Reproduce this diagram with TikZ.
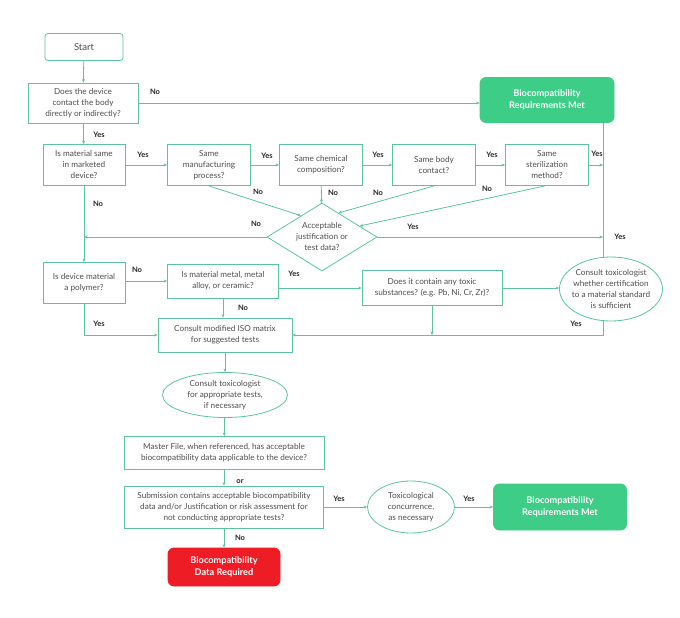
\documentclass[tikz,border=0pt]{standalone}
\usepackage{fontspec}
\setmainfont{Lato}
\usetikzlibrary{shapes.geometric,arrows.meta,calc}
\definecolor{lncol}{HTML}{5BC49C}
\definecolor{gf}{HTML}{3DCD86}
\definecolor{rf}{HTML}{EE1C24}
\definecolor{tx}{HTML}{4D4D4D}
\begin{document}
\begin{tikzpicture}[x=1pt,y=-1pt,
  box/.style={draw=lncol, line width=0.8pt, text=tx, align=center, inner sep=2pt, font=\fontsize{8.2}{11}\selectfont},
  term/.style={box, rounded corners=6pt, fill=gf, draw=gf, text=white, font=\bfseries\fontsize{9.2}{12.5}\selectfont},
  redterm/.style={term, fill=rf, draw=rf},
  oval/.style={box, ellipse, inner xsep=-7pt, inner ysep=-1pt},
  dia/.style={box, diamond, aspect=1.6, inner sep=0pt},
  lbl/.style={font=\bfseries\fontsize{7.5}{8}\selectfont, text=black!85},
  arr/.style={draw=lncol, line width=0.8pt, -{Stealth[length=3.5pt,width=3pt]}},
  wire/.style={draw=lncol, line width=0.8pt}]
\useasboundingbox (0,0) rectangle (680,618);
% nodes
\node[box, rounded corners=3pt, minimum width=78pt, minimum height=27pt, font=\fontsize{9.5}{11}\selectfont] (start) at (84,47) {Start};
\node[box, minimum width=110pt, minimum height=40pt] (q1) at (83,103) {Does the device\\contact the body\\directly or indirectly?};
\node[term, minimum width=134pt, minimum height=45pt] (bm1) at (547,100) {Biocompatibility\\Requirements Met};
\node[box, minimum width=82pt, minimum height=41pt] (q2) at (84,165) {Is material same\\in marketed\\device?};
\node[box, minimum width=83pt, minimum height=41pt] (b3) at (209,165) {Same\\manufacturing\\process?};
\node[box, minimum width=83pt, minimum height=41pt] (b4) at (321,165) {Same chemical\\composition?};
\node[box, minimum width=83pt, minimum height=41pt] (b5) at (434,165) {Same body\\contact?};
\node[box, minimum width=83pt, minimum height=41pt] (b6) at (547,165) {Same\\sterilization\\method?};
\node[dia, minimum width=110pt, minimum height=68pt] (dia) at (322,237) {Acceptable\\justification or\\test data?};
\node[box, minimum width=82pt, minimum height=41pt] (q3) at (84,283) {Is device material\\a polymer?};
\node[box, minimum width=111pt, minimum height=34pt] (b7) at (223,281) {Is material metal, metal\\alloy, or ceramic?};
\node[box, minimum width=140pt, minimum height=35pt] (b8) at (432,288) {Does it contain any toxic\\substances? (e.g. Pb, Ni, Cr, Zr)?};
\node[oval, minimum width=103pt, minimum height=64pt] (e1) at (611,289) {Consult toxicologist\\whether certification\\to a material standard\\is sufficient};
\node[box, minimum width=134pt, minimum height=34pt] (iso) at (225,335) {Consult modified ISO matrix\\for suggested tests};
\node[oval, minimum width=125pt, minimum height=45pt] (e2) at (225,395) {Consult toxicologist\\for appropriate tests,\\if necessary};
\node[box, minimum width=200pt, minimum height=33pt] (b10) at (224,453) {Master File, when referenced, has acceptable\\biocompatibility data applicable to the device?};
\node[box, minimum width=199pt, minimum height=42pt] (b11) at (224,507) {Submission contains acceptable biocompatibility\\data and/or Justification or risk assessment for\\not conducting appropriate tests?};
\node[oval, minimum width=87pt, minimum height=52pt] (e3) at (411,507) {Toxicological\\concurrence,\\as necessary};
\node[term, minimum width=133pt, minimum height=46pt] (bm2) at (560,507) {Biocompatibility\\Requirements Met};
\node[redterm, minimum width=112pt, minimum height=38pt] (red) at (224,567) {Biocompatibility\\Data Required};
\coordinate (vx) at (603,0);
% connectors
\draw[arr] (start) -- (q1);
\draw[arr] (q1.east) -- (q1.east -| bm1.west);
\draw[arr] (q1) -- (q2);
\draw[arr] (q2) -- (b3);
\draw[arr] (b3) -- (b4);
\draw[arr] (b4) -- (b5);
\draw[arr] (b5) -- (b6);
\draw[arr] (b6.east) -- (b6.east -| vx);
\draw[wire] (bm1.south -| vx) -- (e1.north -| vx);
\draw[arr] (b3.south) -- ($(dia.north)!0.38!(dia.west)$);
\draw[arr] (b4) -- (dia);
\draw[arr] (b5.south) -- ($(dia.north)!0.3!(dia.east)$);
\draw[arr] ($(b6.south)+(-2,0)$) -- ($(dia.north)!0.68!(dia.east)$);
\draw[arr] (dia.west) -- (dia.west -| q2.south);
\draw[arr] (dia.east) -- (dia.east -| vx);
\draw[arr] (q2) -- (q3);
\draw[arr] (q3.east |- b7.west) -- (b7.west);
\draw[arr] (b7.east |- b8.west) -- (b8.west);
\draw[arr] (b8.east) -- (b8.east -| e1.west);
\draw[arr] (b7.south) -- (b7.south |- iso.north);
\draw[arr] (b8.south) -- (b8.south |- iso.east);
\draw[arr] (e1.south -| vx) -- (vx |- iso.east) -- (iso.east);
\draw[arr] (q3.south) -- (q3.south |- iso.west) -- (iso.west);
\draw[arr] (iso) -- (e2);
\draw[arr] (e2) -- (b10);
\draw[arr] (b10) -- (b11);
\draw[arr] (b11) -- (e3);
\draw[arr] (e3) -- (bm2);
\draw[arr] (b11) -- (red);
% labels
\node[lbl] (l1) at (155,92) {No};
\node[lbl] (l2) at (99,135) {Yes};
\node[lbl] (l3) at (143,155) {Yes};
\node[lbl] (l4) at (267,156) {Yes};
\node[lbl] (l5) at (378,155) {Yes};
\node[lbl] (l6) at (492,155) {Yes};
\node[lbl] (l7) at (597,154) {Yes};
\node[lbl] (l8) at (258,192) {No};
\node[lbl] (l9) at (333,193) {No};
\node[lbl] (l10) at (378,193) {No};
\node[lbl] (l11) at (487,189) {No};
\node[lbl] (l12) at (413,227) {Yes};
\node[lbl] (l13) at (620,237) {Yes};
\node[lbl] (l14) at (98,204) {No};
\node[lbl] (l15) at (256,224) {No};
\node[lbl] (l16) at (137,270) {No};
\node[lbl] (l17) at (294,274) {Yes};
\node[lbl] (l18) at (243,308) {No};
\node[lbl] (l19) at (99,324) {Yes};
\node[lbl] (l20) at (576,324) {Yes};
\node[lbl] (l21) at (240,482) {or};
\node[lbl] (l22) at (339,499) {Yes};
\node[lbl] (l23) at (240,538) {No};
\node[lbl] (l24) at (469,499) {Yes};
\end{tikzpicture}
\end{document}
